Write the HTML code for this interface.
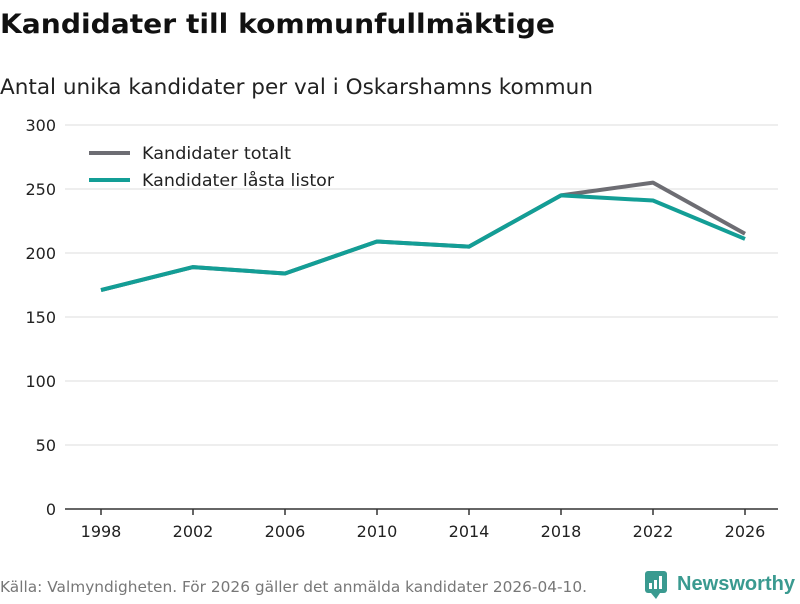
<!DOCTYPE html>
<html><head><meta charset="utf-8"><style>
body{margin:0;width:800px;height:600px;background:#fff;font-family:"DejaVu Sans","Liberation Sans",sans-serif;overflow:hidden}
svg text{font-family:"DejaVu Sans","Liberation Sans",sans-serif}
</style></head><body>
<svg width="800" height="600">
<text x="0" y="33" font-size="27" font-weight="bold" fill="#111" textLength="555" lengthAdjust="spacingAndGlyphs">Kandidater till kommunfullmäktige</text>
<text x="0" y="94" font-size="21" fill="#222" textLength="593" lengthAdjust="spacingAndGlyphs">Antal unika kandidater per val i Oskarshamns kommun</text>
<g id="grid"></g><g id="xaxis"></g><g id="series"></g>
<g>
<line x1="89" y1="153" x2="130" y2="153" stroke="#6d6d73" stroke-width="4"/>
<text x="142" y="159" font-size="17" fill="#222" textLength="149" lengthAdjust="spacingAndGlyphs">Kandidater totalt</text>
<line x1="89" y1="180" x2="130" y2="180" stroke="#139e96" stroke-width="4"/>
<text x="142" y="186" font-size="17" fill="#222" textLength="192" lengthAdjust="spacingAndGlyphs">Kandidater låsta listor</text>
</g>
<text x="0" y="592" font-size="15" fill="#777" textLength="587" lengthAdjust="spacingAndGlyphs">Källa: Valmyndigheten. För 2026 gäller det anmälda kandidater 2026-04-10.</text>
<g>
<rect x="645" y="571" width="22" height="22" rx="3" fill="#3a9a90"/>
<path d="M651 593 L656 599 L660 593 Z" fill="#3a9a90"/>
<rect x="649" y="583" width="3" height="6" fill="#fff"/><rect x="654" y="580" width="3" height="9" fill="#fff"/><rect x="659" y="576" width="3" height="13" fill="#fff"/>
<text x="677" y="590" font-size="20" font-weight="bold" fill="#3a9a90" style="font-family:'Liberation Sans',sans-serif" textLength="118" lengthAdjust="spacingAndGlyphs">Newsworthy</text>
</g>
</svg>
<script>
const years=[1998,2002,2006,2010,2014,2018,2022,2026];
const totalt=[171,189,184,209,205,245,255,215];
const lasta=[171,189,184,209,205,245,241,211];
const yTicks=[0,50,100,150,200,250,300];
const NS="http://www.w3.org/2000/svg";
const x=v=>101+(v-1998)*23;
const y=v=>509-v*1.28;
function mk(t,a,p){const e=document.createElementNS(NS,t);for(const k in a)e.setAttribute(k,a[k]);p.appendChild(e);return e;}
const g=document.getElementById('grid');
yTicks.forEach(t=>{
 if(t>0){const l=mk('line',{x1:65,x2:778,y1:y(t),y2:y(t),stroke:'#dcdcdc','stroke-width':1},g);
 
 }
 const tx=mk('text',{x:56,y:y(t)+6,'font-size':16,fill:'#222','text-anchor':'end'},g);tx.textContent=t;
 
 
});
const xa=document.getElementById('xaxis');
const ax=mk('line',{x1:65,x2:778,y1:509,y2:509,stroke:'#333','stroke-width':1.5},xa);


years.forEach(v=>{
 mk('line',{x1:x(v),x2:x(v),y1:509,y2:515,stroke:'#333','stroke-width':1.5},xa);
 const tx=mk('text',{x:x(v),y:537,'font-size':16,fill:'#222','text-anchor':'middle'},xa);tx.textContent=v;
 
 
});
const s=document.getElementById('series');
[[totalt,'#6d6d73','line-totalt'],[lasta,'#139e96','line-lasta']].forEach(([d,c,n])=>{
 const p=mk('polyline',{points:d.map((v,i)=>x(years[i])+','+y(v)).join(' '),fill:'none',stroke:c,'stroke-width':4,'stroke-linejoin':'round'},s);
 
 
});
</script>
</body></html>
